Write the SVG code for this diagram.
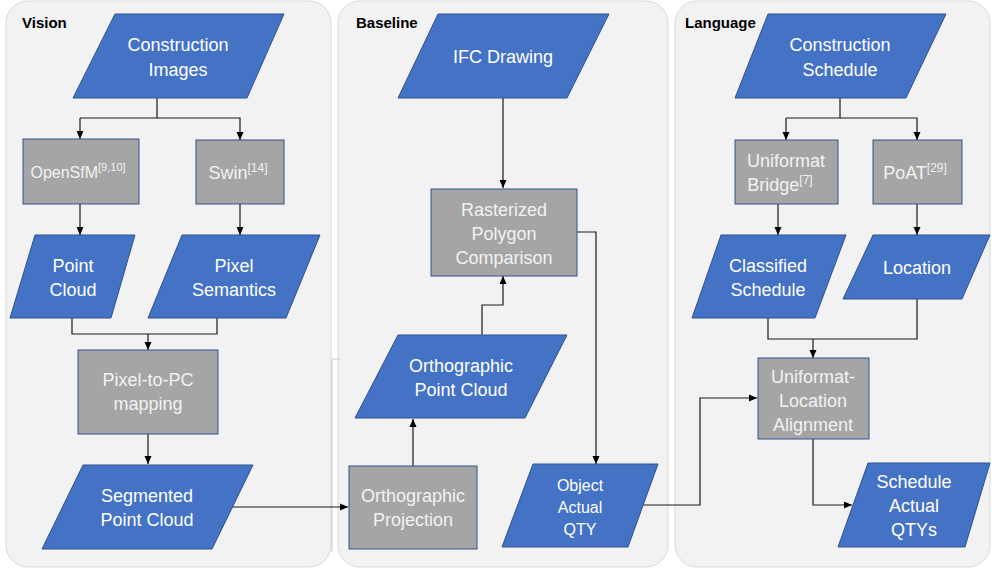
<svg xmlns="http://www.w3.org/2000/svg" width="992" height="570" viewBox="0 0 992 570">
<style>
.panel{fill:#f2f2f2;stroke:#d9d9d9;stroke-width:1}
.title{font-family:"Liberation Sans",Arial,sans-serif;font-weight:bold;font-size:15px;fill:#000}
.io{fill:#4472c4;stroke:#2f528f;stroke-width:1}
.proc{fill:#a5a5a5;stroke:#2f528f;stroke-width:1}
.t{font-family:"Liberation Sans",Arial,sans-serif;font-size:18px;fill:#ffffff;text-anchor:middle}
.tp{font-family:"Liberation Sans",Arial,sans-serif;font-size:18px;fill:#f2f2f2;text-anchor:middle}
.sup{font-size:11px}
.c{fill:none;stroke:#1a1a1a;stroke-width:1.2}
.ca{fill:none;stroke:#1a1a1a;stroke-width:1.2;marker-end:url(#ah)}
</style>
<defs>
<marker id="ah" markerUnits="userSpaceOnUse" markerWidth="8" markerHeight="8" viewBox="0 0 8 8" refX="8" refY="4" orient="auto">
<path d="M0,0.5 L8,4 L0,7.5 Z" fill="#000"/>
</marker>
</defs>

<g id="panels">
<rect class="panel" x="6" y="1" width="325" height="566" rx="22"/>
<rect class="panel" x="338" y="1" width="330" height="566" rx="22"/>
<rect class="panel" x="675" y="1" width="315" height="566" rx="22"/>
<path d="M340,359 H332 V552" fill="none" stroke="#c8c8c8" stroke-width="1"/>
<text class="title" x="22" y="28">Vision</text>
<text class="title" x="356" y="28">Baseline</text>
<text class="title" x="685" y="28">Language</text>
</g>

<g id="connectors">
<path class="c" d="M157,98 V118 H80"/>
<path class="ca" d="M80,118 V139"/>
<path class="ca" d="M157,118 H240 V140"/>
<path class="ca" d="M80,204 V235"/>
<path class="ca" d="M240,204 V235"/>
<path class="c" d="M72,318 V334 H217 V318"/>
<path class="ca" d="M148,334 V350"/>
<path class="ca" d="M148,434 V464"/>
<path class="ca" d="M232,507 H348"/>
<path class="ca" d="M503,98 V188"/>
<path class="ca" d="M577,232 H596 V464"/>
<path class="ca" d="M482,335 V305 H503 V276"/>
<path class="ca" d="M413,466 V419"/>
<path class="ca" d="M643,505 H700 V398 H757"/>
<path class="c" d="M840,98 V118 H786"/>
<path class="ca" d="M786,118 V140"/>
<path class="ca" d="M840,118 H917 V140"/>
<path class="ca" d="M778,204 V235"/>
<path class="ca" d="M917,204 V235"/>
<path class="c" d="M768,318 V339 H917 V299"/>
<path class="ca" d="M813,339 V358"/>
<path class="ca" d="M813,439 V505 H852"/>
</g>

<g id="construction-images">
<polygon class="io" points="115,14 284,14 247,98 73,98"/>
<text class="t" x="178" y="51">Construction</text>
<text class="t" x="178" y="76">Images</text>
</g>
<g id="opensfm">
<rect class="proc" x="23" y="139" width="116" height="65"/>
<text class="tp" x="78" y="178" style="font-size:16px">OpenSfM<tspan class="sup" dy="-7">[9,10]</tspan></text>
</g>
<g id="swin">
<rect class="proc" x="196" y="140" width="88" height="64"/>
<text class="tp" x="238" y="179">Swin<tspan class="sup" dy="-7" style="font-size:12px">[14]</tspan></text>
</g>
<g id="point-cloud">
<polygon class="io" points="35,235 135,235 111,318 10,318"/>
<text class="t" x="73" y="272">Point</text>
<text class="t" x="73" y="296">Cloud</text>
</g>
<g id="pixel-semantics">
<polygon class="io" points="182,235 320,235 286,318 148,318"/>
<text class="t" x="234" y="272">Pixel</text>
<text class="t" x="234" y="296">Semantics</text>
</g>
<g id="pixel-to-pc">
<rect class="proc" x="78" y="350" width="140" height="84"/>
<text class="tp" x="148" y="386">Pixel-to-PC</text>
<text class="tp" x="148" y="410">mapping</text>
</g>
<g id="segmented-point-cloud">
<polygon class="io" points="83,465 253,465 212,549 42,549"/>
<text class="t" x="147" y="502">Segmented</text>
<text class="t" x="147" y="526">Point Cloud</text>
</g>

<g id="ifc-drawing">
<polygon class="io" points="438,14 609,14 567,98 398,98"/>
<text class="t" x="503" y="63">IFC Drawing</text>
</g>
<g id="rasterized-polygon-comparison">
<rect class="proc" x="431" y="189" width="146" height="87"/>
<text class="tp" x="504" y="216">Rasterized</text>
<text class="tp" x="504" y="240">Polygon</text>
<text class="tp" x="504" y="264">Comparison</text>
</g>
<g id="orthographic-point-cloud">
<polygon class="io" points="398,335 567,335 525,418 355,418"/>
<text class="t" x="461" y="372">Orthographic</text>
<text class="t" x="461" y="396">Point Cloud</text>
</g>
<g id="orthographic-projection">
<rect class="proc" x="349" y="466" width="128" height="83"/>
<text class="tp" x="413" y="502">Orthographic</text>
<text class="tp" x="413" y="526">Projection</text>
</g>
<g id="object-actual-qty">
<polygon class="io" points="533,464 658,464 628,547 502,547"/>
<text class="t" x="580" y="491" style="font-size:16px">Object</text>
<text class="t" x="580" y="513" style="font-size:16px">Actual</text>
<text class="t" x="580" y="535" style="font-size:16px">QTY</text>
</g>

<g id="construction-schedule">
<polygon class="io" points="768,14 946,14 906,98 735,98"/>
<text class="t" x="840" y="51">Construction</text>
<text class="t" x="840" y="76">Schedule</text>
</g>
<g id="uniformat-bridge">
<rect class="proc" x="735" y="140" width="103" height="64"/>
<text class="tp" x="786" y="167">Uniformat</text>
<text class="tp" x="780" y="191">Bridge<tspan class="sup" dy="-7" style="font-size:12px">[7]</tspan></text>
</g>
<g id="poat">
<rect class="proc" x="873" y="140" width="89" height="64"/>
<text class="tp" x="915" y="179">PoAT<tspan class="sup" dy="-7" style="font-size:12px">[29]</tspan></text>
</g>
<g id="classified-schedule">
<polygon class="io" points="721,235 846,235 815,318 692,318"/>
<text class="t" x="768" y="272">Classified</text>
<text class="t" x="768" y="296">Schedule</text>
</g>
<g id="location">
<polygon class="io" points="873,235 990,235 962,299 843,299"/>
<text class="t" x="917" y="274">Location</text>
</g>
<g id="uniformat-location-alignment">
<rect class="proc" x="758" y="358" width="111" height="81"/>
<text class="tp" x="813" y="383">Uniformat-</text>
<text class="tp" x="813" y="407">Location</text>
<text class="tp" x="813" y="431">Alignment</text>
</g>
<g id="schedule-actual-qtys">
<polygon class="io" points="868,463 990,463 965,547 838,547"/>
<text class="t" x="914" y="488">Schedule</text>
<text class="t" x="914" y="512">Actual</text>
<text class="t" x="914" y="536">QTYs</text>
</g>
</svg>
